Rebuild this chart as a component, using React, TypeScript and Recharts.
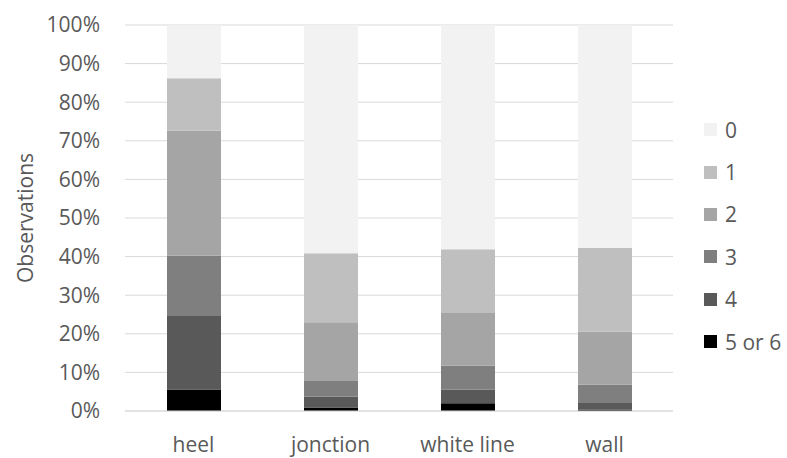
import React from 'react';
import { BarChart, Bar, XAxis, YAxis, CartesianGrid, Legend } from 'recharts';

const categories = ['heel', 'jonction', 'white line', 'wall'];
const seriesNames = ['5 or 6', '4', '3', '2', '1', '0'];
const s5or6 = [5.6, 0.9, 2.0, 0.3];
const s4 = [19.0, 2.8, 3.6, 1.8];
const s3 = [15.6, 4.1, 6.1, 4.7];
const s2 = [32.5, 15.2, 13.7, 13.7];
const s1 = [13.5, 17.9, 16.5, 21.8];
const s0 = [13.8, 59.1, 58.1, 57.7];
const yTicks = [0, 0.1, 0.2, 0.3, 0.4, 0.5, 0.6, 0.7, 0.8, 0.9, 1];
const colors = ['#000000', '#595959', '#7f7f7f', '#a5a5a5', '#bfbfbf', '#f2f2f2'];

const seriesValues = [s5or6, s4, s3, s2, s1, s0];
const data = categories.map((c, i) => {
  const row: Record<string, any> = { name: c };
  seriesNames.forEach((s, k) => {
    row[s] = seriesValues[k][i];
  });
  return row;
});

const FONT = '"Open Sans", "Noto Sans", sans-serif';
const TEXT = '#595959';

const LegendContent = (props: any) => {
  const raw = [...(props.payload || [])];
  // top-to-bottom: 0, 1, 2, 3, 4, 5 or 6
  const payload = raw.length && raw[0].value === '5 or 6' ? raw.reverse() : raw;
  return (
    <div style={{ paddingLeft: 31, fontFamily: FONT, fontSize: 21, color: TEXT }}>
      {payload.map((p: any) => (
        <div key={p.value} style={{ height: 42.4, display: 'flex', alignItems: 'center' }}>
          <span style={{ width: 13, height: 13, background: p.color, display: 'inline-block', marginRight: 8 }} />
          <span>{p.value}</span>
        </div>
      ))}
    </div>
  );
};

const YLabel = (props: any) => {
  const vb = props.viewBox || {};
  const cy = (vb.y || 0) + (vb.height || 0) / 2;
  const cx = 25;
  return (
    <text
      x={cx}
      y={cy}
      transform={`rotate(-90 ${cx} ${cy})`}
      textAnchor="middle"
      dominantBaseline="central"
      fill={TEXT}
      fontSize={21}
      fontFamily={FONT}
    >
      Observations
    </text>
  );
};

export default function App() {
  return (
    <div style={{ position: 'absolute', left: 0, top: 0, width: 787, height: 458, background: '#fff' }}>
      <BarChart
        width={787}
        height={458}
        data={data}
        stackOffset="expand"
        margin={{ top: 25, right: 0, bottom: 0, left: 0 }}
      >
        <CartesianGrid vertical={false} stroke="#d9d9d9" strokeWidth={1} />
        <XAxis
          dataKey="name"
          height={47}
          tickLine={false}
          axisLine={{ stroke: '#d9d9d9' }}
          tickMargin={20}
          tick={{ fill: TEXT, fontSize: 21, fontFamily: FONT }}
        />
        <YAxis
          width={125}
          domain={[0, 1]}
          ticks={yTicks}
          interval={0}
          tickLine={false}
          axisLine={false}
          tickMargin={19}
          tickFormatter={(v: number) => `${Math.round(v * 100)}%`}
          tick={{ fill: TEXT, fontSize: 21, fontFamily: FONT }}
          label={<YLabel />}
        />
        <Legend
          layout="vertical"
          align="right"
          verticalAlign="top"
          content={<LegendContent />}
          wrapperStyle={{ top: 108.5, right: 0, width: 114 }}
        />
        {seriesNames.map((s, k) => (
          <Bar key={s} dataKey={s} stackId="a" fill={colors[k]} barSize={54} isAnimationActive={false} />
        ))}
      </BarChart>
    </div>
  );
}
